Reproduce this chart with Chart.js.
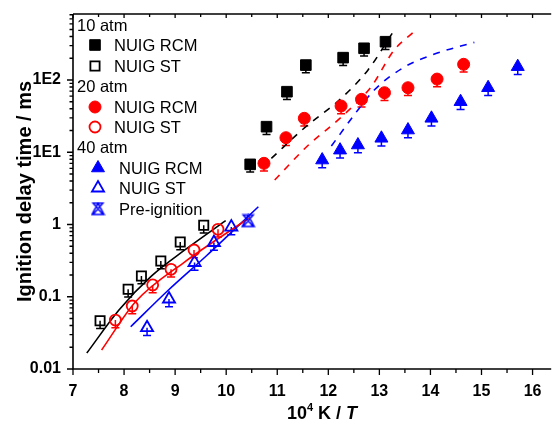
<!DOCTYPE html>
<html>
<head>
<meta charset="utf-8">
<script src="https://cdn.jsdelivr.net/npm/chart.js@4/dist/chart.umd.js"></script>
<style>
  html, body { margin: 0; padding: 0; background: #fff; }
  #wrap { width: 560px; height: 421px; }
</style>
</head>
<body>
<div id="wrap"><canvas id="chart" width="560" height="421"></canvas></div>
<script>
// axis ticks
const xTicks = [7, 8, 9, 10, 11, 12, 13, 14, 15, 16];
const yTicks = [0.01, 0.1, 1, 10, 100];
const yTickLabels = ["0.01", "0.1", "1", "1E1", "1E2"];

// 10 atm
const rcm10X = [10.47, 10.79, 11.19, 11.56, 12.29, 12.70, 13.12];
const rcm10Y = [6.8, 22.6, 68.9, 161, 204, 275, 339];
const st10X = [7.53, 8.08, 8.34, 8.72, 9.10, 9.56];
const st10Y = [0.0466, 0.127, 0.194, 0.313, 0.573, 0.975];

// 20 atm
const rcm20X = [10.74, 11.17, 11.53, 12.25, 12.65, 13.10, 13.56, 14.13, 14.65];
const rcm20Y = [7.03, 15.9, 29.5, 43.7, 54.0, 66.7, 78.2, 103, 165];
const st20X = [7.83, 8.16, 8.56, 8.92, 9.37, 9.84];
const st20Y = [0.0476, 0.0745, 0.146, 0.240, 0.444, 0.859];

// 40 atm
const rcm40X = [11.88, 12.23, 12.58, 13.04, 13.56, 14.02, 14.59, 15.13, 15.71];
const rcm40Y = [7.8, 10.7, 12.6, 15.6, 20.3, 29.5, 50.1, 78.2, 153];
const st40X = [8.45, 8.88, 9.38, 9.76, 10.10];
const st40Y = [0.0373, 0.0931, 0.298, 0.564, 0.922];
const preIgnX = [10.43];
const preIgnY = [1.12];

// model curves, shock tube (solid)
const simSt10X = [7.27, 7.90, 8.54, 9.19, 9.99];
const simSt10Y = [0.0166, 0.0656, 0.194, 0.444, 1.13];
const simSt20X = [7.56, 8.225, 9.19, 10.44];
const simSt20Y = [0.0183, 0.0853, 0.305, 1.22];
const simSt40X = [8.13, 8.87, 9.63, 10.63];
const simSt40Y = [0.0385, 0.124, 0.378, 1.76];

// model curves, RCM (dashed)
const simRcm10X = [10.885, 11.56, 12.23, 12.775, 13.26];
const simRcm10Y = [8.25, 22.6, 54, 137, 452];
const simRcm20X = [10.95, 11.59, 12.26, 12.84, 13.29, 13.67];
const simRcm20Y = [4.13, 12.2, 31.0, 80.8, 260, 462];
const simRcm40X = [12.06, 12.58, 12.90, 13.48, 14.12, 14.86];
const simRcm40Y = [12.2, 38.5, 72.7, 150, 234, 332];

const BLACK = "#000000";
const RED = "#ff0000";
const BLUE = "#0000ff";
const FONT = "'Liberation Sans', Arial, sans-serif";
const ERR = 1.28;

const pts = (xs, ys) => xs.map((x, i) => ({ x: x, y: ys[i] }));

// triangle + hourglass marker for the pre-ignition points
function preIgnMarker(color) {
  const s = 15;
  const c = document.createElement("canvas");
  c.width = s;
  c.height = s;
  const g = c.getContext("2d");
  g.strokeStyle = color;
  g.lineWidth = 1.5;
  g.beginPath();
  g.moveTo(7.5, 1.5);
  g.lineTo(1.5, 13);
  g.lineTo(13.5, 13);
  g.closePath();
  g.moveTo(2.5, 1.5);
  g.lineTo(12.5, 1.5);
  g.lineTo(2.5, 13);
  g.lineTo(12.5, 13);
  g.closePath();
  g.stroke();
  return c;
}

function markers(label, xs, ys, color, style, filled, radius) {
  return {
    label: label,
    data: pts(xs, ys),
    pointStyle: style,
    pointRadius: radius,
    pointBackgroundColor: filled ? color : "rgba(0,0,0,0)",
    pointBorderColor: color,
    pointBorderWidth: filled ? 1 : 1.8,
    borderColor: color,
    showLine: false,
    errorBars: true,
    order: 0,
  };
}

function curve(xs, ys, color, dashed) {
  return {
    label: "",
    data: pts(xs, ys),
    showLine: true,
    borderColor: color,
    borderWidth: 1.6,
    borderDash: dashed ? [7, 7] : [],
    pointRadius: 0,
    cubicInterpolationMode: "monotone",
    order: 1,
  };
}

const datasets = [
  markers("NUIG RCM", rcm10X, rcm10Y, BLACK, "rect", true, 7.5),
  markers("NUIG ST", st10X, st10Y, BLACK, "rect", false, 6.5),
  markers("NUIG RCM", rcm20X, rcm20Y, RED, "circle", true, 6),
  markers("NUIG ST", st20X, st20Y, RED, "circle", false, 5.5),
  markers("NUIG RCM", rcm40X, rcm40Y, BLUE, "triangle", true, 7.5),
  markers("NUIG ST", st40X, st40Y, BLUE, "triangle", false, 7),
  Object.assign(markers("Pre-ignition", preIgnX, preIgnY, BLUE, preIgnMarker(BLUE), false, 7), { errorBars: false }),
  curve(simSt10X, simSt10Y, BLACK, false),
  curve(simSt20X, simSt20Y, RED, false),
  curve(simSt40X, simSt40Y, BLUE, false),
  curve(simRcm10X, simRcm10Y, BLACK, true),
  curve(simRcm20X, simRcm20Y, RED, true),
  curve(simRcm40X, simRcm40Y, BLUE, true),
];

// legend rows: header text or dataset index
const legendRows = [
  { text: "10 atm", y: 26 },
  { ds: 0, y: 45, mx: 95, tx: 114 },
  { ds: 1, y: 66, mx: 95, tx: 114 },
  { text: "20 atm", y: 87 },
  { ds: 2, y: 107, mx: 95, tx: 114 },
  { ds: 3, y: 127, mx: 95, tx: 114 },
  { text: "40 atm", y: 148 },
  { ds: 4, y: 168, mx: 98, tx: 119 },
  { ds: 5, y: 188, mx: 98, tx: 119 },
  { ds: 6, y: 209, mx: 98, tx: 119 },
];

const decor = {
  id: "decor",
  beforeDatasetsDraw(chart) {
    // error bars: only the lower half shows, the marker hides the rest
    const ctx = chart.ctx;
    const ys = chart.scales.y;
    ctx.save();
    chart.data.datasets.forEach((ds, i) => {
      if (!ds.errorBars) return;
      const meta = chart.getDatasetMeta(i);
      ctx.strokeStyle = ds.borderColor;
      ctx.lineWidth = 1.5;
      meta.data.forEach((el, j) => {
        const v = ds.data[j].y;
        const y1 = ys.getPixelForValue(v / ERR);
        ctx.beginPath();
        ctx.moveTo(el.x, el.y);
        ctx.lineTo(el.x, y1);
        ctx.moveTo(el.x - 4, y1);
        ctx.lineTo(el.x + 4, y1);
        ctx.stroke();
      });
    });
    ctx.restore();
  },
  afterDraw(chart) {
    const ctx = chart.ctx;
    const { left, top, bottom, right } = chart.chartArea;
    const xs = chart.scales.x;
    const ys = chart.scales.y;
    ctx.save();
    ctx.strokeStyle = "#000";
    ctx.lineWidth = 1.6;

    // frame (right side falls outside the picture)
    ctx.beginPath();
    ctx.moveTo(left, top);
    ctx.lineTo(right, top);
    ctx.moveTo(left, top);
    ctx.lineTo(left, bottom);
    ctx.lineTo(right, bottom);
    ctx.stroke();

    // x ticks, bottom outward and top inward
    ctx.lineWidth = 1.3;
    ctx.beginPath();
    xTicks.forEach((v) => {
      const px = xs.getPixelForValue(v);
      ctx.moveTo(px, bottom);
      ctx.lineTo(px, bottom + 6);
      ctx.moveTo(px, top);
      ctx.lineTo(px, top + 4);
      const pm = xs.getPixelForValue(v + 0.5);
      if (pm <= right) {
        ctx.moveTo(pm, bottom);
        ctx.lineTo(pm, bottom + 4);
        ctx.moveTo(pm, top);
        ctx.lineTo(pm, top + 3);
      }
    });
    ctx.stroke();

    // y ticks, log minor ticks
    ctx.beginPath();
    yTicks.forEach((v) => {
      const py = ys.getPixelForValue(v);
      ctx.moveTo(left, py);
      ctx.lineTo(left - 6, py);
      for (let m = 2; m <= 9; m++) {
        if (v * m > ys.max) break;
        const pm = ys.getPixelForValue(v * m);
        ctx.moveTo(left, pm);
        ctx.lineTo(left - 3.5, pm);
      }
    });
    ctx.stroke();

    // y title
    ctx.fillStyle = "#000";
    ctx.font = "bold 20px " + FONT;
    ctx.textAlign = "center";
    ctx.textBaseline = "middle";
    ctx.save();
    ctx.translate(25, (top + bottom) / 2);
    ctx.rotate(-Math.PI / 2);
    ctx.fillText("Ignition delay time / ms", 0, 0);
    ctx.restore();

    // x title: 10^4 K / T
    const parts = [
      { t: "10", f: "bold 18px " + FONT, dy: 0 },
      { t: "4", f: "bold 11px " + FONT, dy: -8 },
      { t: " K / ", f: "bold 18px " + FONT, dy: 0 },
      { t: "T", f: "italic bold 18px " + FONT, dy: 0 },
    ];
    ctx.textAlign = "left";
    ctx.textBaseline = "alphabetic";
    let w = 0;
    parts.forEach((p) => { ctx.font = p.f; p.w = ctx.measureText(p.t).width; w += p.w; });
    let cx = 322 - w / 2;
    parts.forEach((p) => { ctx.font = p.f; ctx.fillText(p.t, cx, 419 + p.dy); cx += p.w; });

    // legend
    ctx.font = "16.5px " + FONT;
    ctx.textBaseline = "middle";
    legendRows.forEach((row) => {
      if (row.text) {
        ctx.fillStyle = "#000";
        ctx.fillText(row.text, 77, row.y);
        return;
      }
      const ds = chart.data.datasets[row.ds];
      ctx.fillStyle = ds.pointBackgroundColor;
      ctx.strokeStyle = ds.pointBorderColor;
      ctx.lineWidth = ds.pointBorderWidth;
      Chart.helpers.drawPoint(ctx, {
        pointStyle: ds.pointStyle,
        radius: ds.pointRadius,
        rotation: 0,
        borderWidth: ds.pointBorderWidth,
      }, row.mx, row.y);
      ctx.fillStyle = "#000";
      ctx.fillText(ds.label, row.tx, row.y + 1);
    });
    ctx.restore();
  },
};

new Chart(document.getElementById("chart"), {
  type: "scatter",
  data: { datasets: datasets },
  options: {
    responsive: false,
    animation: false,
    devicePixelRatio: 1,
    layout: { padding: { top: 14, right: 0, left: 0, bottom: 0 } },
    plugins: {
      legend: { display: false },
      tooltip: { enabled: false },
    },
    scales: {
      x: {
        type: "linear",
        min: 7,
        max: 16.365,
        grid: { display: false, drawTicks: false },
        border: { display: false },
        afterBuildTicks: (s) => { s.ticks = xTicks.map((v) => ({ value: v })); },
        afterFit: (s) => {
          s.height = 52;
          s.paddingLeft = 0;
          s.paddingRight = 0;
        },
        ticks: {
          color: "#000",
          padding: 13,
          maxRotation: 0,
          font: { family: FONT, size: 16, weight: "bold" },
        },
      },
      y: {
        type: "logarithmic",
        min: 0.01,
        max: 820,
        grid: { display: false, drawTicks: false },
        border: { display: false },
        afterBuildTicks: (s) => { s.ticks = yTicks.map((v) => ({ value: v })); },
        afterFit: (s) => {
          s.width = 73;
          s.paddingTop = 0;
          s.paddingBottom = 0;
        },
        ticks: {
          color: "#000",
          padding: 12,
          font: { family: FONT, size: 16, weight: "bold" },
          callback: (v) => {
            const i = yTicks.indexOf(v);
            return i >= 0 ? yTickLabels[i] : "";
          },
        },
      },
    },
  },
  plugins: [decor],
});
</script>
</body>
</html>
